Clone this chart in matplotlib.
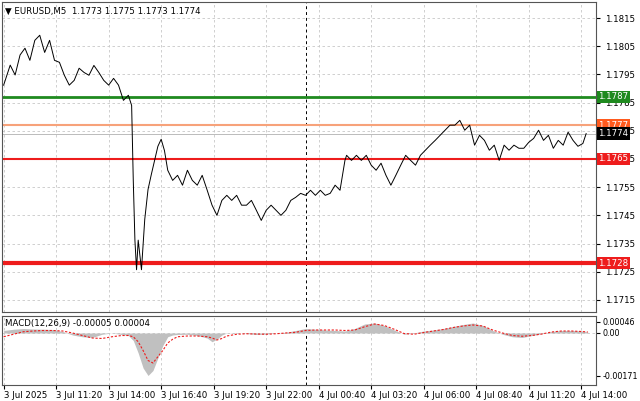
import matplotlib.pyplot as plt
import numpy as np

# price path (bar index, price)
price_bars = [0, 4, 7, 10, 13, 16, 19, 22, 25, 28, 31, 34, 37, 40, 43, 46, 49, 52, 55, 58,
              61, 64, 67, 70, 73, 76, 78, 79, 80, 81, 82, 84, 86, 88, 90, 92, 94, 96, 98, 100,
              103, 106, 109, 112, 115, 118, 121, 124, 127, 130, 133, 136, 139, 142, 145, 148, 151, 154, 157, 160,
              163, 166, 169, 172, 175, 178, 181, 184, 187, 190, 193, 196, 199, 202, 205, 208, 209, 212, 215, 218,
              221, 224, 227, 230, 233, 236, 239, 242, 245, 248, 251, 254, 257, 260, 263, 266, 269, 272, 275, 278,
              281, 284, 287, 290, 293, 296, 299, 302, 305, 308, 311, 314, 317, 320, 323, 326, 329, 332, 335, 338,
              341, 344, 347, 350, 353, 355]
price_vals = [1.17912, 1.17983, 1.17948, 1.18019, 1.18043, 1.18000, 1.18071, 1.18089, 1.18028, 1.18071,
              1.18000, 1.17993, 1.17947, 1.17912, 1.17929, 1.17972, 1.17957, 1.17947, 1.17982, 1.17957,
              1.17929, 1.17912, 1.17936, 1.17912, 1.17858, 1.17876, 1.17840, 1.17574, 1.17362, 1.17257, 1.17362,
              1.17257, 1.17436, 1.17542, 1.17595, 1.17645, 1.17695, 1.17720, 1.17680, 1.17610,
              1.17574, 1.17592, 1.17557, 1.17610, 1.17574, 1.17557, 1.17592, 1.17540, 1.17486, 1.17450,
              1.17503, 1.17521, 1.17503, 1.17521, 1.17486, 1.17486, 1.17503, 1.17468, 1.17432, 1.17468,
              1.17486, 1.17468, 1.17450, 1.17468, 1.17503, 1.17514, 1.17528, 1.17521, 1.17539, 1.17521,
              1.17539, 1.17521, 1.17528, 1.17557, 1.17539, 1.17645, 1.17663, 1.17645, 1.17663, 1.17645,
              1.17663, 1.17628, 1.17610, 1.17635, 1.17592, 1.17557, 1.17592, 1.17628, 1.17663, 1.17645,
              1.17628, 1.17663, 1.17681, 1.17699, 1.17716, 1.17734, 1.17752, 1.17770, 1.17770, 1.17787,
              1.17752, 1.17770, 1.17699, 1.17734, 1.17716, 1.17681, 1.17699, 1.17645, 1.17699, 1.17681,
              1.17699, 1.17688, 1.17688, 1.17709, 1.17723, 1.17752, 1.17716, 1.17734, 1.17688, 1.17716,
              1.17699, 1.17745, 1.17716, 1.17695, 1.17705, 1.17740]

# MACD (bar index, histogram, signal) in units of 1e-5
macd_bars = [0, 6, 12, 18, 24, 30, 36, 42, 48, 54, 60, 66, 72, 76, 79, 82, 85, 88, 91, 94,
             97, 100, 103, 106, 112, 118, 124, 127, 130, 133, 136, 142, 148, 154, 160, 166, 172, 178, 184, 190,
             196, 202, 208, 214, 220, 226, 232, 238, 244, 250, 256, 262, 268, 274, 280, 286, 292, 298, 304, 310,
             316, 322, 328, 334, 340, 346, 352, 356]
macd_hist = [10, 15, 18, 16, 15, 14, 6, -8, -15, -18, -5, 0, -6, -10, -30, -80, -140, -170, -150, -100,
             -50, -15, -8, -6, -5, -10, -20, -35, -25, -8, 0, 2, -2, -6, -4, 0, 3, 10, 18, 15,
             12, 10, 8, 18, 36, 40, 30, 12, -5, 0, 8, 12, 18, 26, 34, 40, 30, 10, -5, -15, -18, -10, -3, 6, 10, 10, 8, 4]
macd_sig = [-15, -5, 5, 8, 10, 10, 8, 0, -10, -20, -22, -15, -10, -10, -15, -35, -70, -110, -120, -95,
            -70, -40, -25, -15, -12, -12, -15, -20, -28, -22, -12, -5, -3, -4, -5, -3, 0, 3, 10, 12,
            12, 12, 10, 12, 25, 36, 30, 15, -2, -5, 2, 8, 14, 22, 28, 32, 28, 12, 0, -10, -13, -10, -4, 4, 8, 8, 6, 4]

levels = [(1.1787, '#1f8a1f', 2.0),
          (1.1777, '#f7a27a', 1.5),
          (1.1765, '#ee1c1c', 1.5),
          (1.1728, '#ee1c1c', 3.0)]
label_boxes = [(1.1787, '#1f8a1f'), (1.1777, '#ff5a1e'), (1.1765, '#ee1c1c'), (1.1728, '#ee1c1c'),
               (1.1774, 'black')]
last_price = 1.1774

tick_bars = list(range(0, 353, 32))
tick_labels = ['3 Jul 2025', '3 Jul 11:20', '3 Jul 14:00', '3 Jul 16:40', '3 Jul 19:20', '3 Jul 22:00',
               '4 Jul 00:40', '4 Jul 03:20', '4 Jul 06:00', '4 Jul 08:40', '4 Jul 11:20', '4 Jul 14:00']
price_ticks = [1.1715, 1.1725, 1.1735, 1.1745, 1.1755, 1.1765, 1.1775, 1.1785, 1.1795, 1.1805, 1.1815]

W, H = 640, 401
fig = plt.figure(figsize=(W / 100, H / 100), dpi=100)
fig.patch.set_facecolor('white')
x0, x1 = 2 / W, 596 / W
ax = fig.add_axes([x0, 1 - 312 / H, x1 - x0, 310 / H])
ax2 = fig.add_axes([x0, 1 - 385 / H, x1 - x0, 69 / H])

grid_kw = dict(color='#c8c8c8', ls=(0, (3, 3)), lw=0.6)
for a in (ax, ax2):
    a.set_xlim(-1, 361)
    for b in tick_bars:
        a.axvline(b, **grid_kw, zorder=0)
    a.axvline(184, color='black', ls=(0, (3, 3)), lw=0.7, zorder=1)
    a.tick_params(axis='both', length=3, labelsize=6.2, colors='black', direction='out')
    a.yaxis.tick_right()
    for s in a.spines.values():
        s.set_color('#555555')
        s.set_linewidth(0.8)

ax.set_ylim(1.17107, 1.18207)
for p in price_ticks:
    ax.axhline(p, **grid_kw, zorder=0)
ax.set_yticks(price_ticks)
ax.set_yticklabels([f'{p:.4f}' for p in price_ticks])
ax.set_xticks([])
ax.axhline(last_price, color='#bbbbbb', lw=0.7, zorder=1)
ax.plot(price_bars, price_vals, color='black', lw=0.7, zorder=3)
for val, lc, lw in levels:
    ax.axhline(val, color=lc, lw=lw, zorder=2)
for val, bc in label_boxes:
    ax.text(1.004, val, f'{val:.4f}', transform=ax.get_yaxis_transform(), fontsize=6.2, color='white',
            va='center', ha='left', zorder=5, clip_on=False,
            bbox=dict(boxstyle='square,pad=0.2', fc=bc, ec='none'))
ax.text(0.005, 0.985, '▼ EURUSD,M5  1.1773 1.1775 1.1773 1.1774', transform=ax.transAxes,
        fontsize=6.2, va='top', ha='left')

hb = np.array(macd_bars)
ax2.set_ylim(-0.00208, 0.00068)
ax2.axhline(0, **grid_kw, zorder=0)
ax2.fill_between(hb, np.array(macd_hist) * 1e-5, 0, color='#c0c0c0', lw=0, zorder=2)
ax2.plot(hb, np.array(macd_sig) * 1e-5, color='#ee1c1c', ls=(0, (2, 1.5)), lw=0.8, zorder=3)
ax2.set_yticks([0.00046, 0.0, -0.00171])
ax2.set_yticklabels(['0.00046', '0.00', '-0.00171'])
ax2.tick_params(axis='y', labelsize=5.8, pad=2)
ax2.set_xticks(tick_bars)
ax2.set_xticklabels(tick_labels, ha='left')
ax2.tick_params(axis='x', pad=1)
ax2.text(0.005, 0.96, 'MACD(12,26,9) -0.00005 0.00004', transform=ax2.transAxes,
         fontsize=6.2, va='top', ha='left')

fig.savefig('out.png', dpi=100)
